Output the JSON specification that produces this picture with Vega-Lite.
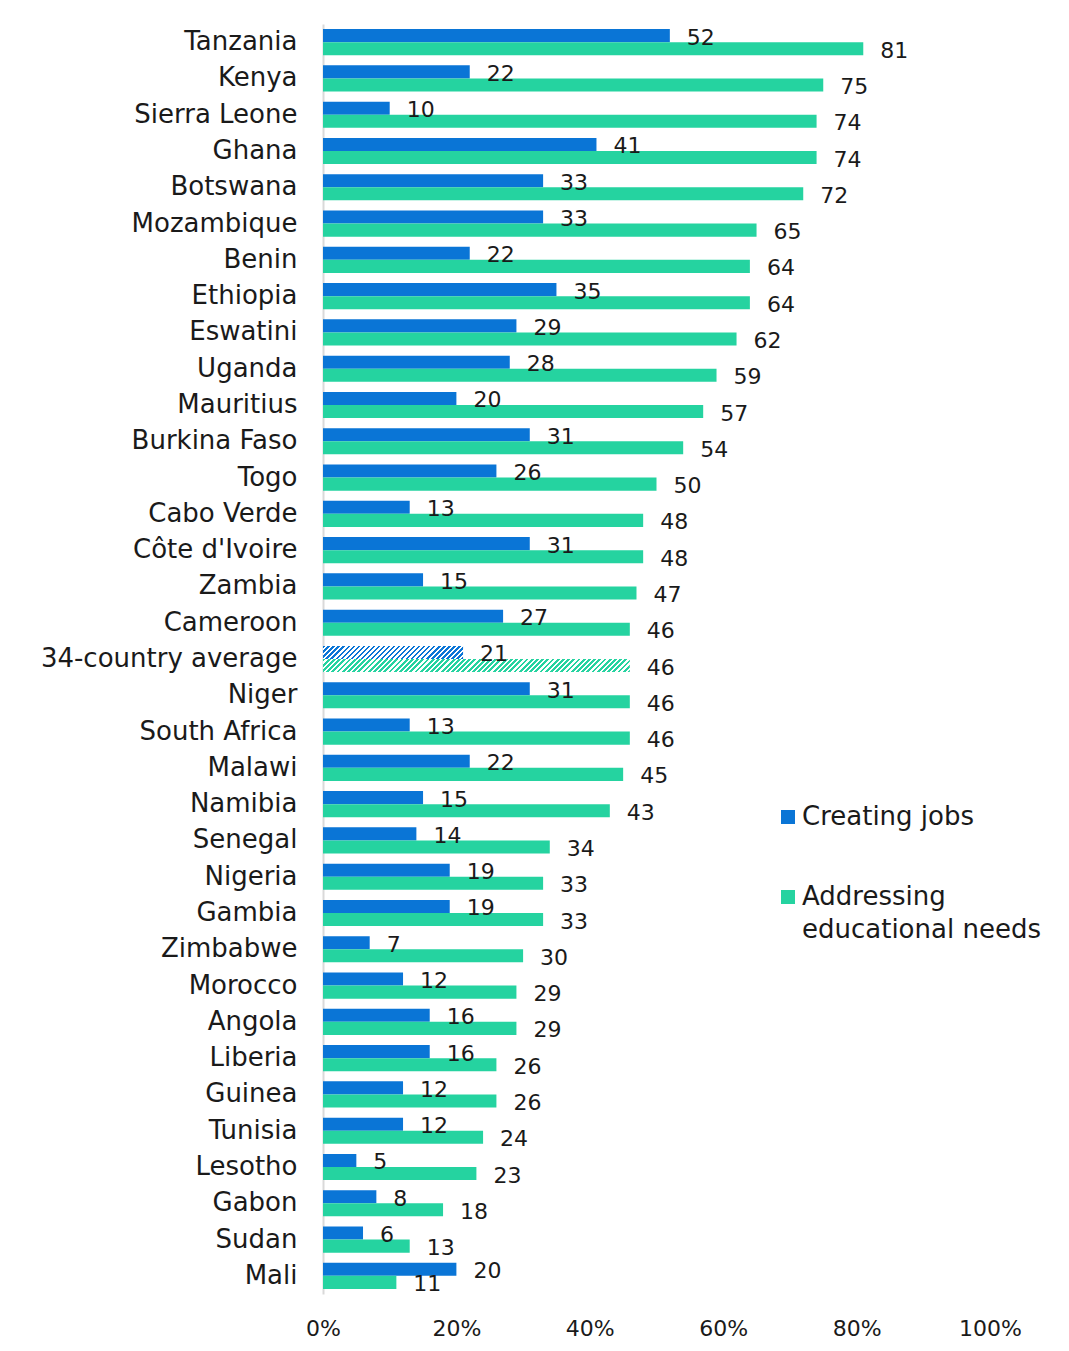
{
  "$schema": "https://vega.github.io/schema/vega-lite/v6.json",
  "autosize": {"type": "none"},
  "padding": {"left": 323, "top": 24, "right": 79, "bottom": 57},
  "width": 667,
  "height": 1270,
  "background": "white",
  "config": {"view": {"stroke": null}, "font": "DejaVu Sans"},
  "data": {"values": [
    {"country": "Tanzania", "series": "Creating jobs", "value": 52},
    {"country": "Tanzania", "series": "Addressing educational needs", "value": 81},
    {"country": "Kenya", "series": "Creating jobs", "value": 22},
    {"country": "Kenya", "series": "Addressing educational needs", "value": 75},
    {"country": "Sierra Leone", "series": "Creating jobs", "value": 10},
    {"country": "Sierra Leone", "series": "Addressing educational needs", "value": 74},
    {"country": "Ghana", "series": "Creating jobs", "value": 41},
    {"country": "Ghana", "series": "Addressing educational needs", "value": 74},
    {"country": "Botswana", "series": "Creating jobs", "value": 33},
    {"country": "Botswana", "series": "Addressing educational needs", "value": 72},
    {"country": "Mozambique", "series": "Creating jobs", "value": 33},
    {"country": "Mozambique", "series": "Addressing educational needs", "value": 65},
    {"country": "Benin", "series": "Creating jobs", "value": 22},
    {"country": "Benin", "series": "Addressing educational needs", "value": 64},
    {"country": "Ethiopia", "series": "Creating jobs", "value": 35},
    {"country": "Ethiopia", "series": "Addressing educational needs", "value": 64},
    {"country": "Eswatini", "series": "Creating jobs", "value": 29},
    {"country": "Eswatini", "series": "Addressing educational needs", "value": 62},
    {"country": "Uganda", "series": "Creating jobs", "value": 28},
    {"country": "Uganda", "series": "Addressing educational needs", "value": 59},
    {"country": "Mauritius", "series": "Creating jobs", "value": 20},
    {"country": "Mauritius", "series": "Addressing educational needs", "value": 57},
    {"country": "Burkina Faso", "series": "Creating jobs", "value": 31},
    {"country": "Burkina Faso", "series": "Addressing educational needs", "value": 54},
    {"country": "Togo", "series": "Creating jobs", "value": 26},
    {"country": "Togo", "series": "Addressing educational needs", "value": 50},
    {"country": "Cabo Verde", "series": "Creating jobs", "value": 13},
    {"country": "Cabo Verde", "series": "Addressing educational needs", "value": 48},
    {"country": "Côte d'Ivoire", "series": "Creating jobs", "value": 31},
    {"country": "Côte d'Ivoire", "series": "Addressing educational needs", "value": 48},
    {"country": "Zambia", "series": "Creating jobs", "value": 15},
    {"country": "Zambia", "series": "Addressing educational needs", "value": 47},
    {"country": "Cameroon", "series": "Creating jobs", "value": 27},
    {"country": "Cameroon", "series": "Addressing educational needs", "value": 46},
    {"country": "34-country average", "series": "Creating jobs", "value": 21},
    {"country": "34-country average", "series": "Addressing educational needs", "value": 46},
    {"country": "Niger", "series": "Creating jobs", "value": 31},
    {"country": "Niger", "series": "Addressing educational needs", "value": 46},
    {"country": "South Africa", "series": "Creating jobs", "value": 13},
    {"country": "South Africa", "series": "Addressing educational needs", "value": 46},
    {"country": "Malawi", "series": "Creating jobs", "value": 22},
    {"country": "Malawi", "series": "Addressing educational needs", "value": 45},
    {"country": "Namibia", "series": "Creating jobs", "value": 15},
    {"country": "Namibia", "series": "Addressing educational needs", "value": 43},
    {"country": "Senegal", "series": "Creating jobs", "value": 14},
    {"country": "Senegal", "series": "Addressing educational needs", "value": 34},
    {"country": "Nigeria", "series": "Creating jobs", "value": 19},
    {"country": "Nigeria", "series": "Addressing educational needs", "value": 33},
    {"country": "Gambia", "series": "Creating jobs", "value": 19},
    {"country": "Gambia", "series": "Addressing educational needs", "value": 33},
    {"country": "Zimbabwe", "series": "Creating jobs", "value": 7},
    {"country": "Zimbabwe", "series": "Addressing educational needs", "value": 30},
    {"country": "Morocco", "series": "Creating jobs", "value": 12},
    {"country": "Morocco", "series": "Addressing educational needs", "value": 29},
    {"country": "Angola", "series": "Creating jobs", "value": 16},
    {"country": "Angola", "series": "Addressing educational needs", "value": 29},
    {"country": "Liberia", "series": "Creating jobs", "value": 16},
    {"country": "Liberia", "series": "Addressing educational needs", "value": 26},
    {"country": "Guinea", "series": "Creating jobs", "value": 12},
    {"country": "Guinea", "series": "Addressing educational needs", "value": 26},
    {"country": "Tunisia", "series": "Creating jobs", "value": 12},
    {"country": "Tunisia", "series": "Addressing educational needs", "value": 24},
    {"country": "Lesotho", "series": "Creating jobs", "value": 5},
    {"country": "Lesotho", "series": "Addressing educational needs", "value": 23},
    {"country": "Gabon", "series": "Creating jobs", "value": 8},
    {"country": "Gabon", "series": "Addressing educational needs", "value": 18},
    {"country": "Sudan", "series": "Creating jobs", "value": 6},
    {"country": "Sudan", "series": "Addressing educational needs", "value": 13},
    {"country": "Mali", "series": "Creating jobs", "value": 20},
    {"country": "Mali", "series": "Addressing educational needs", "value": 11}
  ]},
  "encoding": {
    "y": {
      "field": "country", "type": "nominal",
      "sort": ["Tanzania", "Kenya", "Sierra Leone", "Ghana", "Botswana", "Mozambique", "Benin", "Ethiopia", "Eswatini", "Uganda", "Mauritius", "Burkina Faso", "Togo", "Cabo Verde", "Côte d'Ivoire", "Zambia", "Cameroon", "34-country average", "Niger", "South Africa", "Malawi", "Namibia", "Senegal", "Nigeria", "Gambia", "Zimbabwe", "Morocco", "Angola", "Liberia", "Guinea", "Tunisia", "Lesotho", "Gabon", "Sudan", "Mali"],
      "scale": {"paddingInner": 0.28, "paddingOuter": 0.14},
      "axis": {"title": null, "ticks": false, "domainColor": "#d9d9d9", "domainWidth": 2, "labelFontSize": 26, "labelColor": "#1a1a1a", "labelPadding": 26, "labelLimit": 400}
    },
    "yOffset": {
      "field": "series", "type": "nominal",
      "scale": {"domain": ["Creating jobs", "Addressing educational needs"], "paddingInner": 0, "paddingOuter": 0}
    },
    "x": {
      "field": "value", "type": "quantitative",
      "scale": {"domain": [0, 100]},
      "axis": {"title": null, "values": [0, 20, 40, 60, 80, 100], "labelExpr": "datum.value + '%'", "grid": false, "ticks": false, "domain": false, "labelFontSize": 22, "labelColor": "#1a1a1a", "labelPadding": 24, "labelFlush": false}
    }
  },
  "layer": [
    {
      "transform": [{"filter": "datum.country != '34-country average'"}],
      "mark": {"type": "bar", "strokeWidth": 0},
      "encoding": {
        "color": {
          "field": "series", "type": "nominal",
          "scale": {"domain": ["Creating jobs", "Addressing educational needs"], "range": ["#0a75d6", "#25d3a0"]},
          "legend": {
            "title": null, "orient": "none", "legendX": 452, "legendY": 780,
            "symbolType": "square", "symbolSize": 196, "symbolStrokeWidth": 0,
            "labelFontSize": 26, "labelColor": "#1a1a1a", "labelOffset": 1, "rowPadding": 54, "labelLimit": 400,
            "labelExpr": "datum.label == 'Addressing educational needs' ? ['Addressing', 'educational needs'] : datum.label",
            "encode": {"labels": {"update": {"lineHeight": {"value": 33}}}}
          }
        }
      }
    },
    {
      "transform": [{"filter": "datum.country == '34-country average' && datum.series == 'Creating jobs'"}],
      "mark": {"type": "bar", "strokeWidth": 0, "fill": {"gradient": "linear", "x1": 0, "y1": 0, "x2": 1.1, "y2": 0.1025, "stops": [
        {"offset": 0, "color": "#0a75d6"}, {"offset": 0.0177, "color": "#0a75d6"}, {"offset": 0.0177, "color": "#fff"}, {"offset": 0.0323, "color": "#fff"},
        {"offset": 0.0323, "color": "#0a75d6"}, {"offset": 0.05, "color": "#0a75d6"}, {"offset": 0.05, "color": "#fff"}, {"offset": 0.0645, "color": "#fff"},
        {"offset": 0.0645, "color": "#0a75d6"}, {"offset": 0.0823, "color": "#0a75d6"}, {"offset": 0.0823, "color": "#fff"}, {"offset": 0.0968, "color": "#fff"},
        {"offset": 0.0968, "color": "#0a75d6"}, {"offset": 0.1145, "color": "#0a75d6"}, {"offset": 0.1145, "color": "#fff"}, {"offset": 0.129, "color": "#fff"},
        {"offset": 0.129, "color": "#0a75d6"}, {"offset": 0.1468, "color": "#0a75d6"}, {"offset": 0.1468, "color": "#fff"}, {"offset": 0.1613, "color": "#fff"},
        {"offset": 0.1613, "color": "#0a75d6"}, {"offset": 0.179, "color": "#0a75d6"}, {"offset": 0.179, "color": "#fff"}, {"offset": 0.1935, "color": "#fff"},
        {"offset": 0.1935, "color": "#0a75d6"}, {"offset": 0.2113, "color": "#0a75d6"}, {"offset": 0.2113, "color": "#fff"}, {"offset": 0.2258, "color": "#fff"},
        {"offset": 0.2258, "color": "#0a75d6"}, {"offset": 0.2435, "color": "#0a75d6"}, {"offset": 0.2435, "color": "#fff"}, {"offset": 0.2581, "color": "#fff"},
        {"offset": 0.2581, "color": "#0a75d6"}, {"offset": 0.2758, "color": "#0a75d6"}, {"offset": 0.2758, "color": "#fff"}, {"offset": 0.2903, "color": "#fff"},
        {"offset": 0.2903, "color": "#0a75d6"}, {"offset": 0.3081, "color": "#0a75d6"}, {"offset": 0.3081, "color": "#fff"}, {"offset": 0.3226, "color": "#fff"},
        {"offset": 0.3226, "color": "#0a75d6"}, {"offset": 0.3403, "color": "#0a75d6"}, {"offset": 0.3403, "color": "#fff"}, {"offset": 0.3548, "color": "#fff"},
        {"offset": 0.3548, "color": "#0a75d6"}, {"offset": 0.3726, "color": "#0a75d6"}, {"offset": 0.3726, "color": "#fff"}, {"offset": 0.3871, "color": "#fff"},
        {"offset": 0.3871, "color": "#0a75d6"}, {"offset": 0.4048, "color": "#0a75d6"}, {"offset": 0.4048, "color": "#fff"}, {"offset": 0.4194, "color": "#fff"},
        {"offset": 0.4194, "color": "#0a75d6"}, {"offset": 0.4371, "color": "#0a75d6"}, {"offset": 0.4371, "color": "#fff"}, {"offset": 0.4516, "color": "#fff"},
        {"offset": 0.4516, "color": "#0a75d6"}, {"offset": 0.4694, "color": "#0a75d6"}, {"offset": 0.4694, "color": "#fff"}, {"offset": 0.4839, "color": "#fff"},
        {"offset": 0.4839, "color": "#0a75d6"}, {"offset": 0.5016, "color": "#0a75d6"}, {"offset": 0.5016, "color": "#fff"}, {"offset": 0.5161, "color": "#fff"},
        {"offset": 0.5161, "color": "#0a75d6"}, {"offset": 0.5339, "color": "#0a75d6"}, {"offset": 0.5339, "color": "#fff"}, {"offset": 0.5484, "color": "#fff"},
        {"offset": 0.5484, "color": "#0a75d6"}, {"offset": 0.5661, "color": "#0a75d6"}, {"offset": 0.5661, "color": "#fff"}, {"offset": 0.5806, "color": "#fff"},
        {"offset": 0.5806, "color": "#0a75d6"}, {"offset": 0.5984, "color": "#0a75d6"}, {"offset": 0.5984, "color": "#fff"}, {"offset": 0.6129, "color": "#fff"},
        {"offset": 0.6129, "color": "#0a75d6"}, {"offset": 0.6306, "color": "#0a75d6"}, {"offset": 0.6306, "color": "#fff"}, {"offset": 0.6452, "color": "#fff"},
        {"offset": 0.6452, "color": "#0a75d6"}, {"offset": 0.6629, "color": "#0a75d6"}, {"offset": 0.6629, "color": "#fff"}, {"offset": 0.6774, "color": "#fff"},
        {"offset": 0.6774, "color": "#0a75d6"}, {"offset": 0.6952, "color": "#0a75d6"}, {"offset": 0.6952, "color": "#fff"}, {"offset": 0.7097, "color": "#fff"},
        {"offset": 0.7097, "color": "#0a75d6"}, {"offset": 0.7274, "color": "#0a75d6"}, {"offset": 0.7274, "color": "#fff"}, {"offset": 0.7419, "color": "#fff"},
        {"offset": 0.7419, "color": "#0a75d6"}, {"offset": 0.7597, "color": "#0a75d6"}, {"offset": 0.7597, "color": "#fff"}, {"offset": 0.7742, "color": "#fff"},
        {"offset": 0.7742, "color": "#0a75d6"}, {"offset": 0.7919, "color": "#0a75d6"}, {"offset": 0.7919, "color": "#fff"}, {"offset": 0.8065, "color": "#fff"},
        {"offset": 0.8065, "color": "#0a75d6"}, {"offset": 0.8242, "color": "#0a75d6"}, {"offset": 0.8242, "color": "#fff"}, {"offset": 0.8387, "color": "#fff"},
        {"offset": 0.8387, "color": "#0a75d6"}, {"offset": 0.8565, "color": "#0a75d6"}, {"offset": 0.8565, "color": "#fff"}, {"offset": 0.871, "color": "#fff"},
        {"offset": 0.871, "color": "#0a75d6"}, {"offset": 0.8887, "color": "#0a75d6"}, {"offset": 0.8887, "color": "#fff"}, {"offset": 0.9032, "color": "#fff"},
        {"offset": 0.9032, "color": "#0a75d6"}, {"offset": 0.921, "color": "#0a75d6"}, {"offset": 0.921, "color": "#fff"}, {"offset": 0.9355, "color": "#fff"},
        {"offset": 0.9355, "color": "#0a75d6"}, {"offset": 0.9532, "color": "#0a75d6"}, {"offset": 0.9532, "color": "#fff"}, {"offset": 0.9677, "color": "#fff"},
        {"offset": 0.9677, "color": "#0a75d6"}, {"offset": 0.9855, "color": "#0a75d6"}, {"offset": 0.9855, "color": "#fff"}, {"offset": 1, "color": "#fff"}
      ]}}
    },
    {
      "transform": [{"filter": "datum.country == '34-country average' && datum.series == 'Addressing educational needs'"}],
      "mark": {"type": "bar", "strokeWidth": 0, "fill": {"gradient": "linear", "x1": 0, "y1": 0, "x2": 1.05, "y2": 0.0447, "stops": [
        {"offset": 0, "color": "#25d3a0"}, {"offset": 0.0089, "color": "#25d3a0"}, {"offset": 0.0089, "color": "#fff"}, {"offset": 0.0161, "color": "#fff"},
        {"offset": 0.0161, "color": "#25d3a0"}, {"offset": 0.025, "color": "#25d3a0"}, {"offset": 0.025, "color": "#fff"}, {"offset": 0.0323, "color": "#fff"},
        {"offset": 0.0323, "color": "#25d3a0"}, {"offset": 0.0411, "color": "#25d3a0"}, {"offset": 0.0411, "color": "#fff"}, {"offset": 0.0484, "color": "#fff"},
        {"offset": 0.0484, "color": "#25d3a0"}, {"offset": 0.0573, "color": "#25d3a0"}, {"offset": 0.0573, "color": "#fff"}, {"offset": 0.0645, "color": "#fff"},
        {"offset": 0.0645, "color": "#25d3a0"}, {"offset": 0.0734, "color": "#25d3a0"}, {"offset": 0.0734, "color": "#fff"}, {"offset": 0.0806, "color": "#fff"},
        {"offset": 0.0806, "color": "#25d3a0"}, {"offset": 0.0895, "color": "#25d3a0"}, {"offset": 0.0895, "color": "#fff"}, {"offset": 0.0968, "color": "#fff"},
        {"offset": 0.0968, "color": "#25d3a0"}, {"offset": 0.1056, "color": "#25d3a0"}, {"offset": 0.1056, "color": "#fff"}, {"offset": 0.1129, "color": "#fff"},
        {"offset": 0.1129, "color": "#25d3a0"}, {"offset": 0.1218, "color": "#25d3a0"}, {"offset": 0.1218, "color": "#fff"}, {"offset": 0.129, "color": "#fff"},
        {"offset": 0.129, "color": "#25d3a0"}, {"offset": 0.1379, "color": "#25d3a0"}, {"offset": 0.1379, "color": "#fff"}, {"offset": 0.1452, "color": "#fff"},
        {"offset": 0.1452, "color": "#25d3a0"}, {"offset": 0.154, "color": "#25d3a0"}, {"offset": 0.154, "color": "#fff"}, {"offset": 0.1613, "color": "#fff"},
        {"offset": 0.1613, "color": "#25d3a0"}, {"offset": 0.1702, "color": "#25d3a0"}, {"offset": 0.1702, "color": "#fff"}, {"offset": 0.1774, "color": "#fff"},
        {"offset": 0.1774, "color": "#25d3a0"}, {"offset": 0.1863, "color": "#25d3a0"}, {"offset": 0.1863, "color": "#fff"}, {"offset": 0.1935, "color": "#fff"},
        {"offset": 0.1935, "color": "#25d3a0"}, {"offset": 0.2024, "color": "#25d3a0"}, {"offset": 0.2024, "color": "#fff"}, {"offset": 0.2097, "color": "#fff"},
        {"offset": 0.2097, "color": "#25d3a0"}, {"offset": 0.2185, "color": "#25d3a0"}, {"offset": 0.2185, "color": "#fff"}, {"offset": 0.2258, "color": "#fff"},
        {"offset": 0.2258, "color": "#25d3a0"}, {"offset": 0.2347, "color": "#25d3a0"}, {"offset": 0.2347, "color": "#fff"}, {"offset": 0.2419, "color": "#fff"},
        {"offset": 0.2419, "color": "#25d3a0"}, {"offset": 0.2508, "color": "#25d3a0"}, {"offset": 0.2508, "color": "#fff"}, {"offset": 0.2581, "color": "#fff"},
        {"offset": 0.2581, "color": "#25d3a0"}, {"offset": 0.2669, "color": "#25d3a0"}, {"offset": 0.2669, "color": "#fff"}, {"offset": 0.2742, "color": "#fff"},
        {"offset": 0.2742, "color": "#25d3a0"}, {"offset": 0.2831, "color": "#25d3a0"}, {"offset": 0.2831, "color": "#fff"}, {"offset": 0.2903, "color": "#fff"},
        {"offset": 0.2903, "color": "#25d3a0"}, {"offset": 0.2992, "color": "#25d3a0"}, {"offset": 0.2992, "color": "#fff"}, {"offset": 0.3065, "color": "#fff"},
        {"offset": 0.3065, "color": "#25d3a0"}, {"offset": 0.3153, "color": "#25d3a0"}, {"offset": 0.3153, "color": "#fff"}, {"offset": 0.3226, "color": "#fff"},
        {"offset": 0.3226, "color": "#25d3a0"}, {"offset": 0.3315, "color": "#25d3a0"}, {"offset": 0.3315, "color": "#fff"}, {"offset": 0.3387, "color": "#fff"},
        {"offset": 0.3387, "color": "#25d3a0"}, {"offset": 0.3476, "color": "#25d3a0"}, {"offset": 0.3476, "color": "#fff"}, {"offset": 0.3548, "color": "#fff"},
        {"offset": 0.3548, "color": "#25d3a0"}, {"offset": 0.3637, "color": "#25d3a0"}, {"offset": 0.3637, "color": "#fff"}, {"offset": 0.371, "color": "#fff"},
        {"offset": 0.371, "color": "#25d3a0"}, {"offset": 0.3798, "color": "#25d3a0"}, {"offset": 0.3798, "color": "#fff"}, {"offset": 0.3871, "color": "#fff"},
        {"offset": 0.3871, "color": "#25d3a0"}, {"offset": 0.396, "color": "#25d3a0"}, {"offset": 0.396, "color": "#fff"}, {"offset": 0.4032, "color": "#fff"},
        {"offset": 0.4032, "color": "#25d3a0"}, {"offset": 0.4121, "color": "#25d3a0"}, {"offset": 0.4121, "color": "#fff"}, {"offset": 0.4194, "color": "#fff"},
        {"offset": 0.4194, "color": "#25d3a0"}, {"offset": 0.4282, "color": "#25d3a0"}, {"offset": 0.4282, "color": "#fff"}, {"offset": 0.4355, "color": "#fff"},
        {"offset": 0.4355, "color": "#25d3a0"}, {"offset": 0.4444, "color": "#25d3a0"}, {"offset": 0.4444, "color": "#fff"}, {"offset": 0.4516, "color": "#fff"},
        {"offset": 0.4516, "color": "#25d3a0"}, {"offset": 0.4605, "color": "#25d3a0"}, {"offset": 0.4605, "color": "#fff"}, {"offset": 0.4677, "color": "#fff"},
        {"offset": 0.4677, "color": "#25d3a0"}, {"offset": 0.4766, "color": "#25d3a0"}, {"offset": 0.4766, "color": "#fff"}, {"offset": 0.4839, "color": "#fff"},
        {"offset": 0.4839, "color": "#25d3a0"}, {"offset": 0.4927, "color": "#25d3a0"}, {"offset": 0.4927, "color": "#fff"}, {"offset": 0.5, "color": "#fff"},
        {"offset": 0.5, "color": "#25d3a0"}, {"offset": 0.5089, "color": "#25d3a0"}, {"offset": 0.5089, "color": "#fff"}, {"offset": 0.5161, "color": "#fff"},
        {"offset": 0.5161, "color": "#25d3a0"}, {"offset": 0.525, "color": "#25d3a0"}, {"offset": 0.525, "color": "#fff"}, {"offset": 0.5323, "color": "#fff"},
        {"offset": 0.5323, "color": "#25d3a0"}, {"offset": 0.5411, "color": "#25d3a0"}, {"offset": 0.5411, "color": "#fff"}, {"offset": 0.5484, "color": "#fff"},
        {"offset": 0.5484, "color": "#25d3a0"}, {"offset": 0.5573, "color": "#25d3a0"}, {"offset": 0.5573, "color": "#fff"}, {"offset": 0.5645, "color": "#fff"},
        {"offset": 0.5645, "color": "#25d3a0"}, {"offset": 0.5734, "color": "#25d3a0"}, {"offset": 0.5734, "color": "#fff"}, {"offset": 0.5806, "color": "#fff"},
        {"offset": 0.5806, "color": "#25d3a0"}, {"offset": 0.5895, "color": "#25d3a0"}, {"offset": 0.5895, "color": "#fff"}, {"offset": 0.5968, "color": "#fff"},
        {"offset": 0.5968, "color": "#25d3a0"}, {"offset": 0.6056, "color": "#25d3a0"}, {"offset": 0.6056, "color": "#fff"}, {"offset": 0.6129, "color": "#fff"},
        {"offset": 0.6129, "color": "#25d3a0"}, {"offset": 0.6218, "color": "#25d3a0"}, {"offset": 0.6218, "color": "#fff"}, {"offset": 0.629, "color": "#fff"},
        {"offset": 0.629, "color": "#25d3a0"}, {"offset": 0.6379, "color": "#25d3a0"}, {"offset": 0.6379, "color": "#fff"}, {"offset": 0.6452, "color": "#fff"},
        {"offset": 0.6452, "color": "#25d3a0"}, {"offset": 0.654, "color": "#25d3a0"}, {"offset": 0.654, "color": "#fff"}, {"offset": 0.6613, "color": "#fff"},
        {"offset": 0.6613, "color": "#25d3a0"}, {"offset": 0.6702, "color": "#25d3a0"}, {"offset": 0.6702, "color": "#fff"}, {"offset": 0.6774, "color": "#fff"},
        {"offset": 0.6774, "color": "#25d3a0"}, {"offset": 0.6863, "color": "#25d3a0"}, {"offset": 0.6863, "color": "#fff"}, {"offset": 0.6935, "color": "#fff"},
        {"offset": 0.6935, "color": "#25d3a0"}, {"offset": 0.7024, "color": "#25d3a0"}, {"offset": 0.7024, "color": "#fff"}, {"offset": 0.7097, "color": "#fff"},
        {"offset": 0.7097, "color": "#25d3a0"}, {"offset": 0.7185, "color": "#25d3a0"}, {"offset": 0.7185, "color": "#fff"}, {"offset": 0.7258, "color": "#fff"},
        {"offset": 0.7258, "color": "#25d3a0"}, {"offset": 0.7347, "color": "#25d3a0"}, {"offset": 0.7347, "color": "#fff"}, {"offset": 0.7419, "color": "#fff"},
        {"offset": 0.7419, "color": "#25d3a0"}, {"offset": 0.7508, "color": "#25d3a0"}, {"offset": 0.7508, "color": "#fff"}, {"offset": 0.7581, "color": "#fff"},
        {"offset": 0.7581, "color": "#25d3a0"}, {"offset": 0.7669, "color": "#25d3a0"}, {"offset": 0.7669, "color": "#fff"}, {"offset": 0.7742, "color": "#fff"},
        {"offset": 0.7742, "color": "#25d3a0"}, {"offset": 0.7831, "color": "#25d3a0"}, {"offset": 0.7831, "color": "#fff"}, {"offset": 0.7903, "color": "#fff"},
        {"offset": 0.7903, "color": "#25d3a0"}, {"offset": 0.7992, "color": "#25d3a0"}, {"offset": 0.7992, "color": "#fff"}, {"offset": 0.8065, "color": "#fff"},
        {"offset": 0.8065, "color": "#25d3a0"}, {"offset": 0.8153, "color": "#25d3a0"}, {"offset": 0.8153, "color": "#fff"}, {"offset": 0.8226, "color": "#fff"},
        {"offset": 0.8226, "color": "#25d3a0"}, {"offset": 0.8315, "color": "#25d3a0"}, {"offset": 0.8315, "color": "#fff"}, {"offset": 0.8387, "color": "#fff"},
        {"offset": 0.8387, "color": "#25d3a0"}, {"offset": 0.8476, "color": "#25d3a0"}, {"offset": 0.8476, "color": "#fff"}, {"offset": 0.8548, "color": "#fff"},
        {"offset": 0.8548, "color": "#25d3a0"}, {"offset": 0.8637, "color": "#25d3a0"}, {"offset": 0.8637, "color": "#fff"}, {"offset": 0.871, "color": "#fff"},
        {"offset": 0.871, "color": "#25d3a0"}, {"offset": 0.8798, "color": "#25d3a0"}, {"offset": 0.8798, "color": "#fff"}, {"offset": 0.8871, "color": "#fff"},
        {"offset": 0.8871, "color": "#25d3a0"}, {"offset": 0.896, "color": "#25d3a0"}, {"offset": 0.896, "color": "#fff"}, {"offset": 0.9032, "color": "#fff"},
        {"offset": 0.9032, "color": "#25d3a0"}, {"offset": 0.9121, "color": "#25d3a0"}, {"offset": 0.9121, "color": "#fff"}, {"offset": 0.9194, "color": "#fff"},
        {"offset": 0.9194, "color": "#25d3a0"}, {"offset": 0.9282, "color": "#25d3a0"}, {"offset": 0.9282, "color": "#fff"}, {"offset": 0.9355, "color": "#fff"},
        {"offset": 0.9355, "color": "#25d3a0"}, {"offset": 0.9444, "color": "#25d3a0"}, {"offset": 0.9444, "color": "#fff"}, {"offset": 0.9516, "color": "#fff"},
        {"offset": 0.9516, "color": "#25d3a0"}, {"offset": 0.9605, "color": "#25d3a0"}, {"offset": 0.9605, "color": "#fff"}, {"offset": 0.9677, "color": "#fff"},
        {"offset": 0.9677, "color": "#25d3a0"}, {"offset": 0.9766, "color": "#25d3a0"}, {"offset": 0.9766, "color": "#fff"}, {"offset": 0.9839, "color": "#fff"},
        {"offset": 0.9839, "color": "#25d3a0"}, {"offset": 0.9927, "color": "#25d3a0"}, {"offset": 0.9927, "color": "#fff"}, {"offset": 1, "color": "#fff"}
      ]}}
    },
    {
      "mark": {"type": "text", "align": "left", "baseline": "middle", "dx": 17, "dy": 2, "fontSize": 22, "color": "#1a1a1a"},
      "encoding": {"text": {"field": "value", "type": "quantitative"}}
    }
  ]
}
